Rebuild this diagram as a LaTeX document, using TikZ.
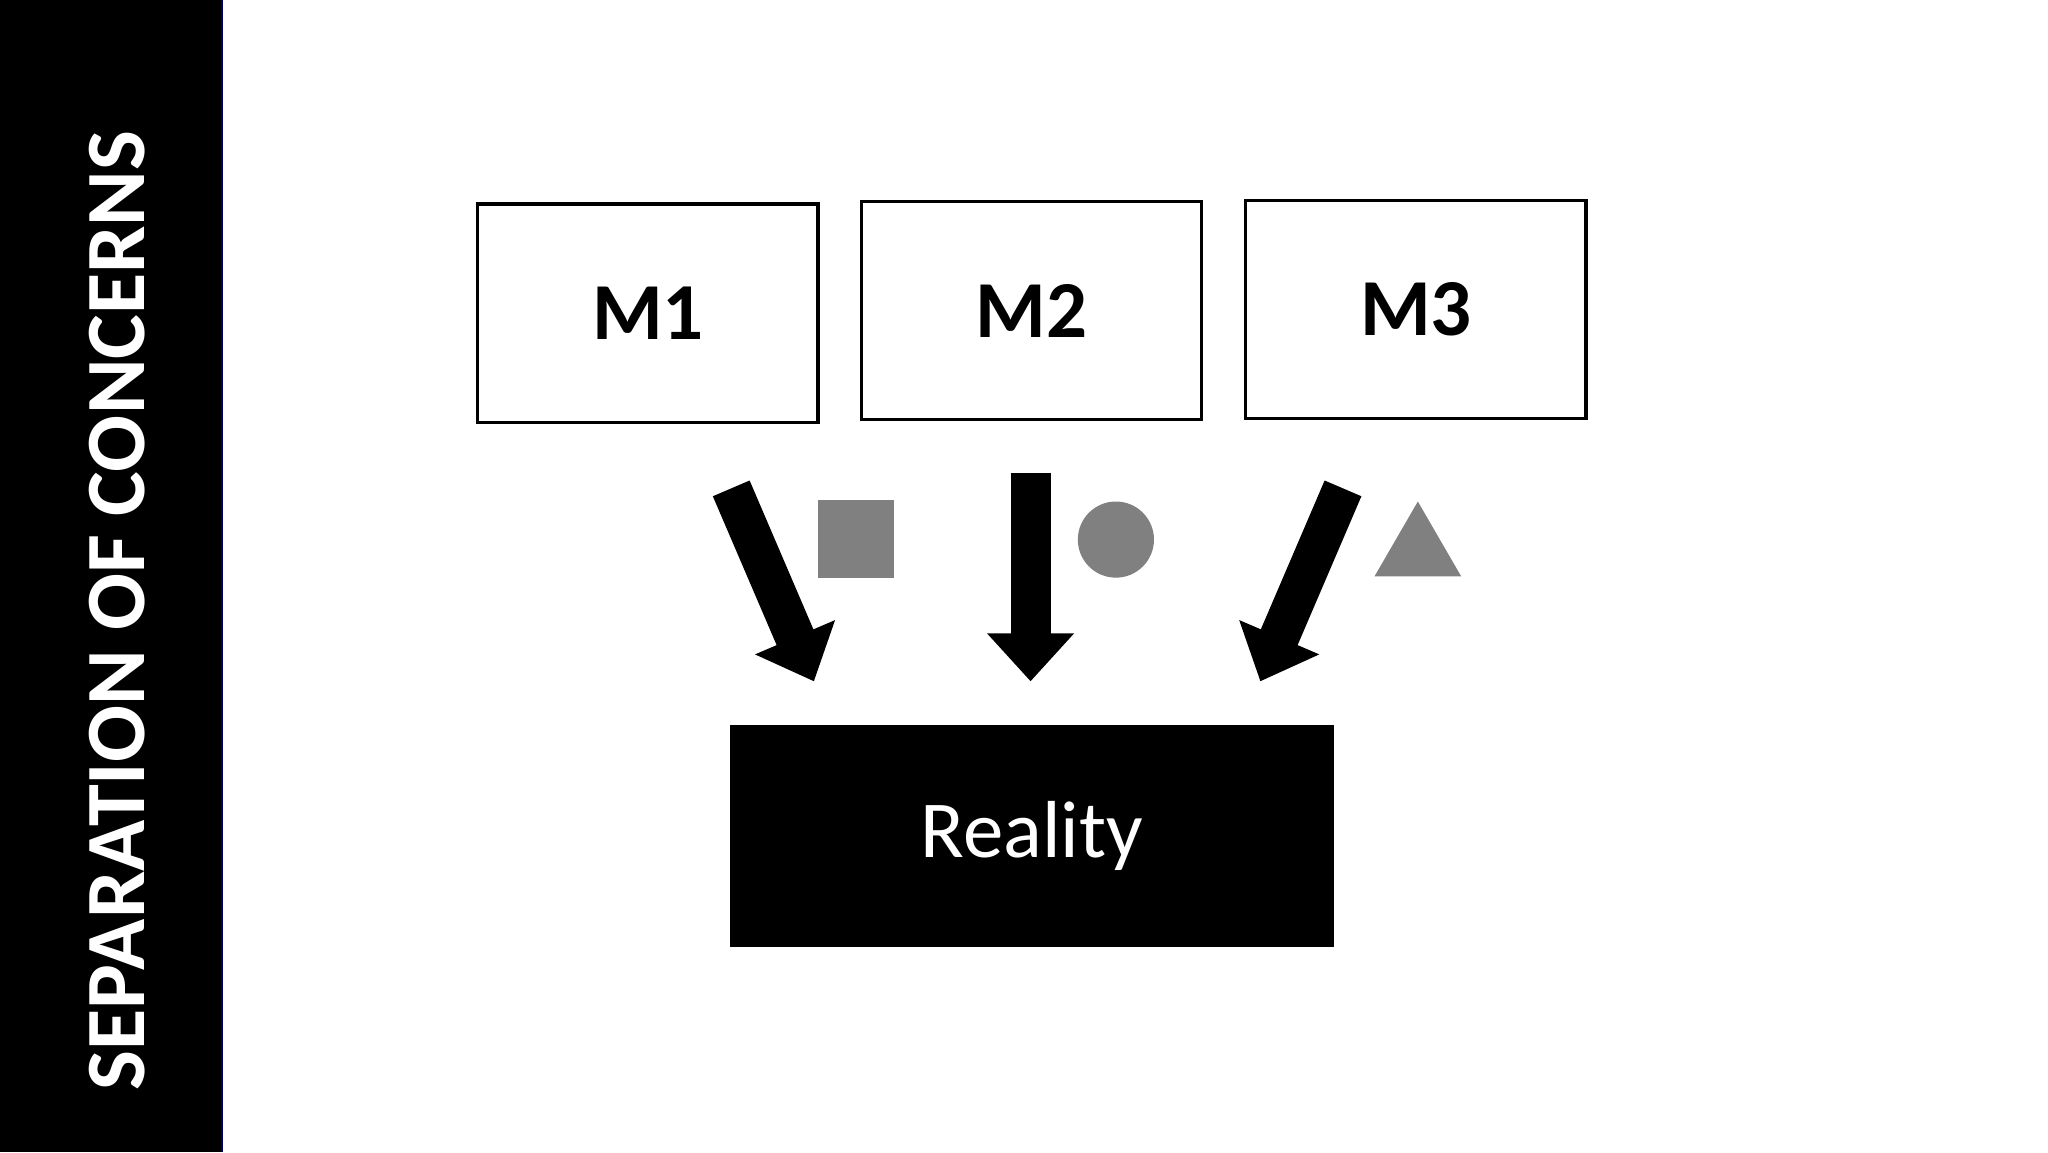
\documentclass[tikz,border=0pt]{standalone}
\usepackage{fontspec}
\setmainfont{Carlito}
\usetikzlibrary{arrows.meta}
\tikzset{x=0.01313cm,y=-0.01313cm,
model/.style={ % boxes for the models
draw, line width=0.9pt, minimum width=3.4cm, minimum height=2.18cm,
font=\fontsize{23}{26}\selectfont\bfseries},
bigarrow/.style={ % block arrows
line width=0.4cm,
-{Triangle[width=0.84cm,length=0.48cm]}}}
\begin{document}
\begin{tikzpicture}
    \useasboundingbox (0,0) rectangle (1560,877.5);
    % side bar
    \fill[black] (0,0) rectangle (169,877.5);
    \draw[blue!40!black, line width=0.6pt] (169,0) -- (169,877.5);
    \node[rotate=90, text=white, font=\fontsize{24}{28}\selectfont\bfseries] (title) at (89,465) {SEPARATION OF CONCERNS};
    % models
    \node[model] (m1) at (493.5,238.5) {M1};
    \node[model] (m2) at (785.5,236.5) {M2};
    \node[model] (m3) at (1078.5,235.5) {M3};
    % reality
    \node[fill=black, minimum width=6.04cm, minimum height=2.22cm, text=white,
      font=\fontsize{23}{26}\selectfont] (reality) at (786,636.5) {Reality};
    % arrows
    \coordinate (a1s) at (557,372);
    \coordinate (a1e) at (620,519);
    \coordinate (a2s) at (785,360);
    \coordinate (a2e) at (785,519);
    \coordinate (a3s) at (1023,372);
    \coordinate (a3e) at (960,519);
    \draw[bigarrow] (a1s) -- (a1e);
    \draw[bigarrow] (a2s) -- (a2e);
    \draw[bigarrow] (a3s) -- (a3e);
    % marks
    \fill[gray] (623,381) rectangle (681,440);
    \fill[gray] (850,411) circle (29);
    \fill[gray] (1047,439) -- (1113,439) -- (1080,382) -- cycle;
\end{tikzpicture}
\end{document}
